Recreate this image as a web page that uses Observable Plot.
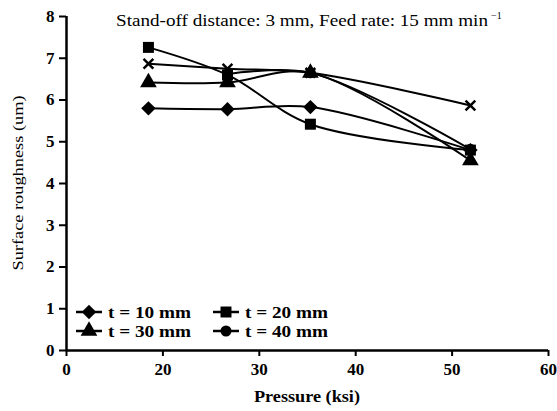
<!DOCTYPE html>
<html>
<head>
<meta charset="utf-8">
<script src="https://cdn.jsdelivr.net/npm/d3@7"></script>
<script src="https://cdn.jsdelivr.net/npm/@observablehq/plot@0.6"></script>
<style>
  body { margin: 0; background: #fff; }
  #chart { position: relative; width: 557px; height: 411px; }
  svg, svg text { font-family: "Liberation Serif", "DejaVu Serif", serif; }
</style>
</head>
<body>
<div id="chart"></div>
<script>
// ---- data ----
const pressure = [18.5, 26.7, 35.3, 51.9];
const t10 = [5.80, 5.78, 5.83, 4.80];
const t20 = [7.26, 6.60, 5.42, 4.80];
const t30 = [6.42, 6.42, 6.65, 4.55];
const t40 = [null, 6.62, 6.65, 4.82];
const tX  = [6.87, 6.75, 6.65, 5.87];   // series drawn with x markers (not in legend)

const seriesNames = ["t = 10 mm", "t = 20 mm", "t = 30 mm", "t = 40 mm", "x-series"];
const seriesValues = [t10, t20, t30, t40, tX];
const seriesSymbols = ["diamond2", "square", "triangle", "circle", "times"];

const xTicks = [10, 20, 30, 40, 50, 60];
const xTickLabels = ["0", "20", "30", "40", "50", "60"];
const yTicks = [0, 1, 2, 3, 4, 5, 6, 7, 8];

const titleMain = "Stand-off distance: 3 mm, Feed rate: 15 mm min";
const titleSup = "\u22121";
const xLabel = "Pressure (ksi)";
const yLabel = "Surface roughness (um)";

// ---- build table ----
const rows = [];
seriesValues.forEach((vals, si) => {
  vals.forEach((v, i) => {
    rows.push({series: seriesNames[si], symbol: seriesSymbols[si], x: pressure[i], y: v});
  });
});
const pts = rows.filter(d => d.y != null);

const FF = "Liberation Serif, serif";
const marks = [
  Plot.ruleY([0], {stroke: "black", strokeWidth: 2.5}),
  Plot.axisY({ticks: yTicks, tickSize: 7, tickPadding: 5, fontSize: 17, fontWeight: "bold",
    fontFamily: FF, label: null, stroke: "black"}),
  Plot.axisX({ticks: xTicks, tickFormat: d => xTickLabels[xTicks.indexOf(d)], tickSize: 6,
    tickPadding: 6, fontSize: 17, fontWeight: "bold", fontFamily: FF, label: null}),
  Plot.ruleX([10], {stroke: "black", strokeWidth: 2.5}),
];
seriesNames.forEach((name) => {
  const data = pts.filter(d => d.series === name);
  marks.push(Plot.line(data, {x: "x", y: "y", stroke: "black", strokeWidth: 2, curve: "catmull-rom"}));
});
seriesNames.forEach((name, si) => {
  const data = pts.filter(d => d.series === name);
  const sym = seriesSymbols[si];
  const isStroke = sym === "times";
  marks.push(Plot.dot(data, {x: "x", y: "y", symbol: sym,
    r: sym === "diamond2" ? 6.5 : sym === "times" ? 4.5 : sym === "circle" ? 5.5 : 6.2,
    fill: isStroke ? "none" : "black", stroke: "black", strokeWidth: isStroke ? 2.5 : 0}));
});

const plot = Plot.plot({
  width: 557, height: 411,
  marginLeft: 66, marginRight: 9, marginTop: 16, marginBottom: 61,
  x: {domain: [10, 60], label: null},
  y: {domain: [0, 8], label: null},
  style: {fontFamily: FF, color: "black", background: "white"},
  marks
});

const svg = d3.select(plot);
svg.selectAll("[aria-label='y-axis tick'] path, [aria-label='x-axis tick'] path").attr("stroke-width", 2);

// title with superscript
const t = svg.append("text").attr("x", 116).attr("y", 26).attr("text-anchor", "start")
  .attr("font-size", 16.5).attr("fill", "black");
t.append("tspan").attr("textLength", 372).attr("lengthAdjust", "spacingAndGlyphs").text(titleMain);
t.append("tspan").attr("dx", 3).attr("dy", -7).attr("font-size", 10).text(titleSup);

// axis titles
svg.append("text").attr("x", 307).attr("y", 402).attr("text-anchor", "middle")
  .attr("font-size", 16).attr("font-weight", "bold")
  .attr("textLength", 106).attr("lengthAdjust", "spacingAndGlyphs").text(xLabel);
svg.append("text").attr("transform", "translate(23,183) rotate(-90)").attr("text-anchor", "middle")
  .attr("font-size", 15).attr("textLength", 175).attr("lengthAdjust", "spacingAndGlyphs").text(yLabel);

// legend
const legendPos = [[76, 312], [213, 312], [76, 331], [213, 331]];
const legendSym = {diamond2: d3.symbolDiamond2, square: d3.symbolSquare, triangle: d3.symbolTriangle, circle: d3.symbolCircle};
const legendSize = {diamond2: Math.PI * 6.5 * 6.5, square: Math.PI * 6.2 * 6.2, triangle: Math.PI * 6.2 * 6.2, circle: Math.PI * 5.5 * 5.5};
const lg = svg.append("g");
for (let i = 0; i < 4; i++) {
  const [lx, ly] = legendPos[i];
  lg.append("line").attr("x1", lx).attr("x2", lx + 26).attr("y1", ly).attr("y2", ly)
    .attr("stroke", "black").attr("stroke-width", 2.5);
  lg.append("path").attr("transform", `translate(${lx + 13},${ly})`)
    .attr("d", d3.symbol(legendSym[seriesSymbols[i]], legendSize[seriesSymbols[i]])()).attr("fill", "black");
  lg.append("text").attr("x", lx + 32).attr("y", ly + 5.5).attr("font-size", 17)
    .attr("text-anchor", "start").attr("font-weight", "bold")
    .attr("textLength", 83).attr("lengthAdjust", "spacingAndGlyphs").text(seriesNames[i]);
}

document.getElementById("chart").appendChild(plot);
</script>
</body>
</html>
